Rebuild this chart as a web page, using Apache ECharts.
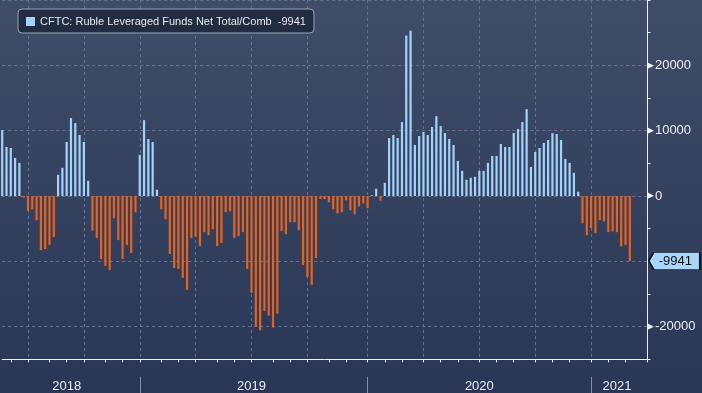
<!DOCTYPE html>
<html><head><meta charset="utf-8">
<script src="https://cdn.jsdelivr.net/npm/echarts@6/dist/echarts.min.js"></script>
<style>html,body{margin:0;padding:0;background:#2f3c58;}#c{width:702px;height:393px;}</style>
</head><body><div id="c"></div>
<script>
// ---- data ----
const seriesName = 'CFTC: Ruble Leveraged Funds Net Total/Comb';
const lastValue = -9941;
const firstWeek = [2018, 4, 22]; // Tue 22 May 2018 (weekly CFTC data)
const padWeeks = 4;              // empty weeks after last bar (axis runs to early Apr 2021)
const netPositions = [
  10090, 7500, 7350, 5830, 5070, -250, -2280, -2030, -3710, -8280,
  -8120, -7510, -6300, 3240, 4310, 8260, 11920, 11160, 9330, 8260,
  2330, -5280, -6450, -9650, -10710, -11370, -3410, -6760, -9650, -7520,
  -8740, -2500, 6290, 11610, 8720, 8260, 960, -2040, -3560, -8890,
  -11020, -11170, -12540, -14370, -6450, -6190, -7670, -5540, -6000, -5080,
  -7670, -7210, -2500, -2340, -6450, -6150, -5540, -11170, -14820, -20000,
  -20550, -17610, -18320, -20150, -18020, -5390, -5840, -4020, -4020, -5240,
  -10560, -12390, -13610, -9500, -460, -460, -970, -2040, -2650, -2500,
  -670, -2190, -2800, -1580, -1130, -1890, 100, 1110, -715, 2020,
  8870, 9330, 8870, 11310, 24550, 25310, 7810, 9180, 9790, 9330,
  10550, 12220, 10700, 9630, 8720, 7810, 5370, 3850, 2480, 2790,
  2940, 3850, 3850, 5070, 6130, 6130, 7960, 7500, 7500, 9630,
  10240, 11310, 13290, 4460, 6740, 7350, 8110, 8570, 9630, 9480,
  8570, 5680, 5070, 3550, 650, -4170, -6000, -4930, -5690, -3710,
  -3910, -5540, -5430, -5540, -7720, -7520, -9941
];
const yMin = -25000, yMax = 30000, yStep = 5000;
const yLabelHidden = [-10000, 30000];

// weekly date categories
const categories = [];
{
  const t0 = Date.UTC(firstWeek[0], firstWeek[1], firstWeek[2]);
  for (let i = 0; i < netPositions.length + padWeeks; i++) {
    categories.push(new Date(t0 + i * 7 * 86400000).toISOString().slice(0, 10));
  }
}
const monthOf = i => +categories[i].slice(5, 7);
const yearOf = i => +categories[i].slice(0, 4);
const isMonthStart = i => i > 0 && monthOf(i) !== monthOf(i - 1);
const isQuarterStart = i => isMonthStart(i) && (monthOf(i) - 1) % 3 === 0;
const isYearStart = i => i > 0 && yearOf(i) !== yearOf(i - 1);
// year label at middle of each year's visible span
const yearStarts = [-0.5];
categories.forEach((c, i) => { if (isYearStart(i)) yearStarts.push(i); });
yearStarts.push(categories.length - 1);
const yearLabelIdx = [];
for (let k = 0; k < yearStarts.length - 1; k++) yearLabelIdx.push(Math.floor((yearStarts[k] + yearStarts[k + 1]) / 2));

const BLUE = '#a3d3fa', ORANGE = '#e5631e';
const GRID = '#62738f';

const chart = echarts.init(document.getElementById('c'), null, {renderer: 'canvas'});
chart.setOption({
  animation: false,
  backgroundColor: {type: 'linear', x: 0, y: 0, x2: 0, y2: 1,
    colorStops: [{offset: 0, color: '#3f4d68'}, {offset: 1, color: '#293656'}]},
  legend: {
    data: [{name: seriesName, icon: 'rect'}],
    selectedMode: false,
    left: 18, top: 9,
    itemWidth: 9, itemHeight: 9,
    backgroundColor: '#222c41', borderColor: '#9aa3b6', borderWidth: 1, borderRadius: 4,
    padding: [7, 8, 6, 8],
    textStyle: {color: '#e6e8ec', fontSize: 11, fontFamily: 'Liberation Sans'},
    formatter: n => n + '  ' + lastValue
  },
  grid: {left: 2.2, right: 55, top: -2.6, bottom: 33.7, containLabel: false},
  xAxis: [{
    type: 'category', data: categories, boundaryGap: false, position: 'bottom',
    axisLine: {show: true, onZero: false, lineStyle: {color: '#f2f2f2', width: 1}},
    axisTick: {show: true, inside: false, length: 3, interval: (i) => isMonthStart(i),
      lineStyle: {color: '#f2f2f2'}},
    axisLabel: {show: false},
    splitLine: {show: true, interval: (i) => isQuarterStart(i),
      lineStyle: {color: GRID, type: [3, 3], width: 1}}
  }, {
    type: 'category', data: categories, boundaryGap: false, position: 'bottom', offset: 17.5,
    axisLine: {show: false, onZero: false},
    axisTick: {show: true, inside: false, length: 18, interval: (i) => isYearStart(i),
      lineStyle: {color: '#8590a6'}},
    axisLabel: {show: true, interval: (i) => yearLabelIdx.indexOf(i) >= 0,
      formatter: v => v.slice(0, 4), color: '#eceef2', fontSize: 13,
      fontFamily: 'Liberation Sans', margin: 3},
    splitLine: {show: false}
  }],
  yAxis: {
    type: 'value', position: 'right', min: yMin, max: yMax, interval: yStep,
    axisLine: {show: true, lineStyle: {color: '#f2f2f2', width: 1}},
    axisTick: {show: true, inside: false, length: 3.5, lineStyle: {color: '#f2f2f2'}},
    splitLine: {show: true, lineStyle: {color: ['rgba(0,0,0,0)', GRID], type: [3, 3], width: 1}},
    axisLabel: {
      margin: 0,
      formatter: v => (v % 10000 === 0 && yLabelHidden.indexOf(v) < 0) ? '{t|▶}{v|' + v + '}' : '',
      rich: {
        t: {fontSize: 9, color: '#f2f2f2', fontFamily: 'DejaVu Sans', padding: [0, 1, 0, 0]},
        v: {fontSize: 13, color: '#eceef2', fontFamily: 'Liberation Sans'}
      }
    }
  },
  series: [{
    name: seriesName, type: 'bar', xAxisIndex: 0, clip: false,
    barWidth: 2.2,
    itemStyle: {color: BLUE},
    data: netPositions.map(v => v < 0 ? {value: v, itemStyle: {color: ORANGE}} : v),
    markPoint: {
      symbol: 'path://M0,8.5 L5,0 L51,0 L51,17 L5,17 Z',
      symbolSize: [51, 17], symbolOffset: [44.5, 0],
      itemStyle: {color: '#a9d6fb', borderColor: '#0b0f18', borderWidth: 1},
      label: {show: true, position: 'inside', offset: [1, 0], color: '#101010', fontSize: 13,
        fontFamily: 'Liberation Sans', formatter: p => String(p.value)},
      data: [{coord: [netPositions.length - 1, lastValue], value: lastValue}]
    }
  }]
});
</script></body></html>
